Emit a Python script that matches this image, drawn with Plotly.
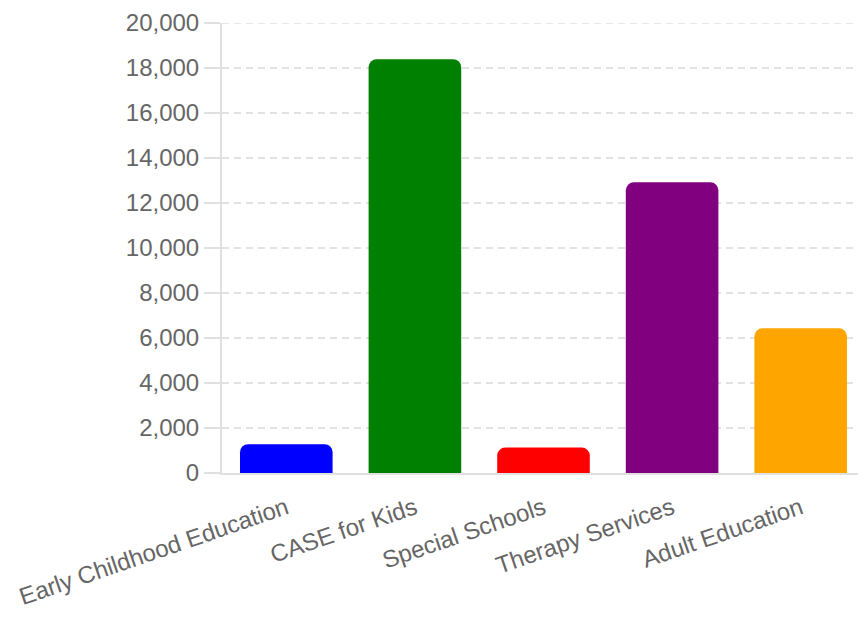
import plotly.graph_objects as go

categories = ["Early Childhood Education", "CASE for Kids", "Special Schools", "Therapy Services", "Adult Education"]
values = [1280, 18390, 1130, 12920, 6430]
colors = ["#0000ff", "#008000", "#ff0000", "#800080", "#ffa500"]
y_ticks = [0, 2000, 4000, 6000, 8000, 10000, 12000, 14000, 16000, 18000, 20000]
y_max = 20000

fig = go.Figure(go.Bar(
    x=categories,
    y=values,
    marker=dict(color=colors, cornerradius=8, line=dict(width=0)),
    hoverinfo="x+y",
))

grid_color = "#e2e2e2"
font_family = "Liberation Sans, Arial, Helvetica, sans-serif"
fig.update_layout(
    width=858, height=611,
    margin=dict(l=214, r=1, t=10, b=146),
    paper_bgcolor="white", plot_bgcolor="white",
    bargap=0.28,
    showlegend=False,
    font=dict(family=font_family, size=24, color="#666666"),
    xaxis=dict(
        type="category",
        showgrid=False,
        tickangle=-19,
        ticks="outside", ticklen=10, tickcolor="rgba(0,0,0,0)",
        showline=True, linecolor="#e0e0e0", linewidth=2,
        tickfont=dict(size=24, color="#666666"),
    ),
    yaxis=dict(
        range=[0, y_max],
        tickvals=y_ticks,
        tickformat=",d",
        ticklabeloverflow="allow",
        showgrid=True, gridcolor=grid_color, griddash="7px,5px", gridwidth=1.5,
        zeroline=False,
        showline=True, linecolor="#e0e0e0", linewidth=2,
        ticks="outside", ticklen=16, tickcolor="#e0e0e0", tickwidth=1.5,
        tickfont=dict(size=24, color="#666666"),
    ),
    shapes=[dict(
        type="line", xref="paper", yref="y",
        x0=0, x1=1, y0=y_max, y1=y_max,
        line=dict(color=grid_color, width=1.5, dash="7px,5px"),
        layer="below",
    )],
)

fig.write_html("out.html")
